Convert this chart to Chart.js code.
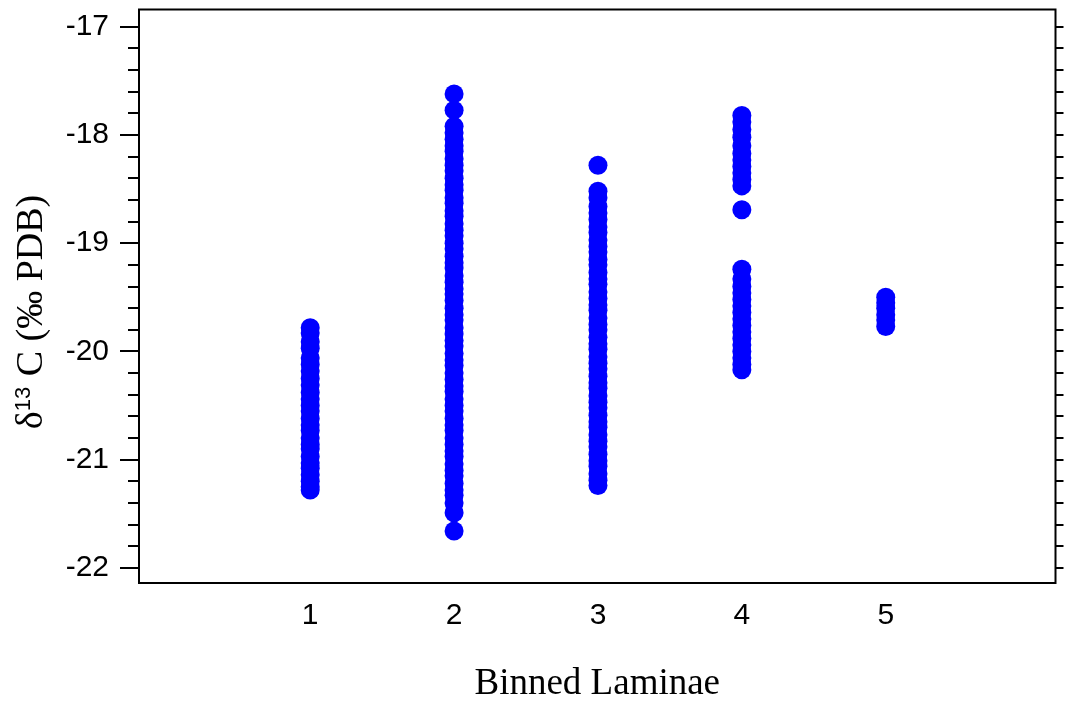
<!DOCTYPE html>
<html>
<head>
<meta charset="utf-8">
<script src="https://cdn.jsdelivr.net/npm/chart.js@4.4.1/dist/chart.umd.min.js"></script>
<style>
  html, body { margin: 0; padding: 0; background: #fff; }
  #wrap { width: 1065px; height: 706px; }
</style>
</head>
<body>
<div id="wrap"><canvas id="chart" width="1065" height="706"></canvas></div>
<script>
// binned laminae (x categories)
const bins = [1, 2, 3, 4, 5];

// delta 13C values
const bin1 = [-19.78, -19.83, -19.91, -19.97, -20.06, -20.12, -20.18, -20.25, -20.31, -20.38,
  -20.44, -20.5, -20.55, -20.62, -20.68, -20.73, -20.8, -20.86, -20.9, -20.97,
  -21.03, -21.08, -21.14, -21.2, -21.25, -21.28];
const bin2 = [-17.62, -17.77, -17.92, -17.98, -18.04, -18.1, -18.15, -18.22, -18.28, -18.33,
  -18.4, -18.46, -18.51, -18.58, -18.63, -18.7, -18.75, -18.82, -18.88, -18.93,
  -19.0, -19.05, -19.12, -19.18, -19.23, -19.3, -19.36, -19.42, -19.47, -19.53,
  -19.6, -19.66, -19.71, -19.78, -19.84, -19.9, -19.95, -20.02, -20.08, -20.13,
  -20.2, -20.26, -20.32, -20.37, -20.44, -20.5, -20.55, -20.62, -20.68, -20.73,
  -20.8, -20.86, -20.92, -20.97, -21.04, -21.1, -21.15, -21.22, -21.28, -21.33,
  -21.4, -21.49, -21.66];
const bin3 = [-18.28, -18.52, -18.58, -18.66, -18.72, -18.78, -18.85, -18.9, -18.97, -19.03,
  -19.08, -19.15, -19.2, -19.27, -19.33, -19.38, -19.45, -19.51, -19.57, -19.62,
  -19.69, -19.75, -19.8, -19.87, -19.93, -19.98, -20.05, -20.11, -20.16, -20.23,
  -20.29, -20.34, -20.41, -20.47, -20.52, -20.59, -20.65, -20.7, -20.77, -20.83,
  -20.88, -20.95, -21.01, -21.06, -21.13, -21.19, -21.24];
const bin4 = [-17.82, -17.88, -17.95, -18.02, -18.1, -18.17, -18.23, -18.29, -18.35, -18.41,
  -18.47, -18.69, -19.24, -19.33, -19.4, -19.46, -19.52, -19.58, -19.64, -19.7,
  -19.76, -19.82, -19.88, -19.94, -20.0, -20.06, -20.12, -20.17];
const bin5 = [-19.5, -19.55, -19.6, -19.66, -19.71, -19.77];

const yMajorTicks = [-22, -21, -20, -19, -18, -17];
const xTitle = 'Binned Laminae';
// y title pieces: delta, superscript 13, rest
const yTitleParts = ['δ', '13', ' C (‰ PDB)'];

const columns = [bin1, bin2, bin3, bin4, bin5];
const points = [];
columns.forEach((vals, i) => {
  vals.forEach(v => points.push({ x: bins[i], y: v }));
});

const serif = 'Liberation Serif, Times New Roman, serif';
const sans = 'Liberation Sans, Arial, sans-serif';

// box round the plot, tick marks on left and right, rotated y title
const frame = {
  id: 'frame',
  afterDraw(chart) {
    const ctx = chart.ctx;
    const a = chart.chartArea;
    const ys = chart.scales.y;
    ctx.save();
    ctx.strokeStyle = '#000';
    ctx.lineWidth = 2;
    ctx.strokeRect(a.left, a.top, a.right - a.left, a.bottom - a.top);
    for (let k = 0; k <= 25; k++) {
      const v = -22 + k * 0.2;
      const py = Math.round(ys.getPixelForValue(v));
      const major = k % 5 === 0;
      ctx.beginPath();
      ctx.moveTo(a.left - (major ? 19 : 11), py);
      ctx.lineTo(a.left, py);
      ctx.moveTo(a.right, py);
      ctx.lineTo(a.right + 8, py);
      ctx.stroke();
    }

    // y title with a real superscript
    const fMain = '38px ' + serif;
    const fSup = '22px ' + sans;
    ctx.font = fMain;
    const w0 = ctx.measureText(yTitleParts[0]).width;
    const w2 = ctx.measureText(yTitleParts[2]).width;
    ctx.font = fSup;
    const w1 = ctx.measureText(yTitleParts[1]).width + 1;
    const total = w0 + w1 + w2;
    ctx.translate(42, 312);
    ctx.rotate(-Math.PI / 2);
    ctx.fillStyle = '#000';
    ctx.textBaseline = 'alphabetic';
    ctx.textAlign = 'left';
    let x = -total / 2;
    ctx.font = fMain;
    ctx.fillText(yTitleParts[0], x, 0);
    x += w0;
    ctx.font = fSup;
    ctx.fillText(yTitleParts[1], x, -12);
    x += w1;
    ctx.font = fMain;
    ctx.fillText(yTitleParts[2], x, 0);
    ctx.restore();
  }
};

new Chart(document.getElementById('chart'), {
  type: 'scatter',
  data: {
    datasets: [{
      label: 'd13C',
      data: points,
      backgroundColor: '#0000ff',
      borderWidth: 0,
      pointRadius: 9.5,
      pointHoverRadius: 9.5
    }]
  },
  options: {
    responsive: false,
    animation: false,
    layout: { padding: { top: 7, right: 8, bottom: 0, left: 0 } },
    plugins: { legend: { display: false }, tooltip: { enabled: false } },
    scales: {
      x: {
        type: 'linear',
        min: -0.19,
        max: 6.18,
        afterBuildTicks: s => { s.ticks = bins.map(v => ({ value: v })); },
        afterFit: s => { s.height = 123; s.paddingLeft = 0; s.paddingRight = 0; },
        grid: { display: false },
        border: { display: false },
        ticks: {
          color: '#000',
          font: { family: sans, size: 30 },
          padding: 7,
          autoSkip: false,
          maxRotation: 0
        },
        title: {
          display: true,
          text: xTitle,
          color: '#000',
          font: { family: serif, size: 37 },
          padding: { top: 0, bottom: 0 }
        }
      },
      y: {
        min: -22.14,
        max: -16.84,
        afterBuildTicks: s => { s.ticks = yMajorTicks.map(v => ({ value: v })); },
        afterFit: s => { s.width = 139; s.paddingTop = 0; s.paddingBottom = 0; },
        grid: { display: false },
        border: { display: false },
        ticks: {
          color: '#000',
          font: { family: sans, size: 30 },
          padding: 22,
          autoSkip: false
        },
        title: { display: false }
      }
    }
  },
  plugins: [frame]
});
</script>
</body>
</html>
